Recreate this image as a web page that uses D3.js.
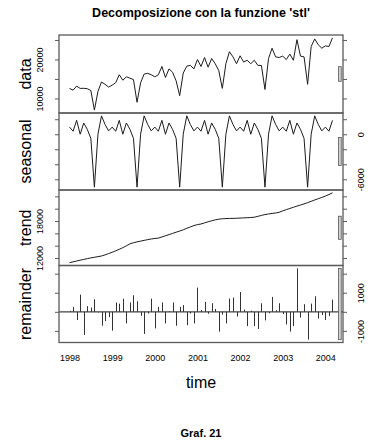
<!DOCTYPE html>
<html>
<head>
<meta charset="utf-8">
<script src="https://cdn.jsdelivr.net/npm/d3@7"></script>
<style>
  body { margin: 0; background: #fff; }
  text { font-family: "Liberation Sans", Arial, sans-serif; fill: #000; }
</style>
</head>
<body>
<svg id="chart" width="370" height="442"></svg>
<script>
// monthly series, Jan 1998 - Mar 2004
const startYear = 1998;

const dataValues = [
  12570, 12120, 13170, 12570, 12600, 12500, 12040, 7010, 11800, 14230, 13620, 12910,
  13400, 14050, 16080, 14670, 15550, 15200, 14840, 9020, 14000, 16260, 16440, 16080,
  15550, 16080, 18200, 15370, 17590, 16700, 14500, 10710, 16500, 18280, 18470, 17590,
  19970, 18200, 20500, 18020, 20240, 18910, 17140, 12570, 18910, 21980, 20660, 18910,
  20930, 19340, 19790, 18910, 19790, 18470, 18470, 12300, 20240, 22880, 20660, 20500,
  20850, 19970, 21380, 19790, 25080, 20850, 20660, 13620, 23310, 25260, 23760, 22880,
  23490, 23310, 25530
];

const seasonalValues = [
  950, 400, 1850, 0, 1500, 650, -550, -7050, 0, 2450, 1300, 450,
  950, 400, 1850, 0, 1500, 650, -550, -7050, 0, 2450, 1300, 450,
  950, 400, 1850, 0, 1500, 650, -550, -7050, 0, 2450, 1300, 450,
  950, 400, 1850, 0, 1500, 650, -550, -7050, 0, 2450, 1300, 450,
  950, 400, 1850, 0, 1500, 650, -550, -7050, 0, 2450, 1300, 450,
  950, 400, 1850, 0, 1500, 650, -550, -7050, 0, 2450, 1300, 450,
  950, 400, 1850
];

const trendValues = [
  11240, 11380, 11510, 11650, 11770, 11900, 12020, 12120, 12220, 12330, 12510, 12720,
  12930, 13170, 13420, 13680, 13980, 14300, 14480, 14620, 14740, 14860, 14980, 15090,
  15170, 15230, 15420, 15610, 15800, 15990, 16190, 16370, 16580, 16810, 17040, 17260,
  17420, 17520, 17700, 17880, 18040, 18190, 18300, 18360, 18400, 18420, 18430, 18450,
  18480, 18510, 18540, 18570, 18620, 18760, 18910, 19050, 19150, 19230, 19300, 19420,
  19650, 19850, 20040, 20230, 20420, 20600, 20780, 20980, 21200, 21420, 21620, 21830,
  22050, 22300, 22580
];

const remainderValues = [
  50, 260, -430, 900, -1215, 295, 225, 660, -30, -730, -490, -280,
  -990, 490, 430, 690, -610, 490, 870, 555, -210, -1160, -90, 690,
  -870, 260, 490, -610, 40, 490, -730, 260, 350, -700, -90, -610,
  1270, 100, 520, -100, 450, 150, -1040, -150, -610, 700, 750, -250,
  1040, 120, -750, 60, -750, -900, 450, -450, -80, 780, 80, 450,
  -120, -660, -1040, -750, 2280, -300, 400, -1460, 430, 815, -350, -170,
  -430, -225, 640
];

const panelNames = ["data", "seasonal", "trend", "remainder"];
const yearTicks = [1998, 1999, 2000, 2001, 2002, 2003, 2004];

const dataTicks = [10000, 15000, 20000, 25000];
const dataLabels = [10000, 20000];
const seasonalTicks = [-6000, -4000, -2000, 0, 2000];
const seasonalLabels = [-6000, 0];
const trendTicks = [12000, 14000, 16000, 18000, 20000, 22000];
const trendLabels = [12000, 18000];
const remainderTicks = [-1000, 0, 1000, 2000];
const remainderLabels = [-1000, 1000];

const svg = d3.select("#chart");
const left = 59, right = 343;
const edges = [35, 113, 190, 265.5, 342.5];
const boxColor = "#5a5a5a";

function padded(ext) {
  const r = ext[1] - ext[0];
  return [ext[0] - 0.04 * r, ext[1] + 0.04 * r];
}

const time = dataValues.map((d, i) => startYear + i / 12);

const x = d3.scaleLinear()
  .domain(padded(d3.extent(time)))
  .range([left, right]);

const series = [dataValues, seasonalValues, trendValues, remainderValues];
const tickSets = [dataTicks, seasonalTicks, trendTicks, remainderTicks];
const labelSets = [dataLabels, seasonalLabels, trendLabels, remainderLabels];

// range bars all have the length of the smallest component range
const barLen = d3.min(series, s => d3.max(s) - d3.min(s));

series.forEach(function (vals, p) {
  const top = edges[p], bottom = edges[p + 1];
  const ext = d3.extent(vals);
  const y = d3.scaleLinear().domain(padded(ext)).range([bottom, top]);
  const g = svg.append("g");

  if (p < 3) {
    g.append("path")
      .datum(vals)
      .attr("fill", "none")
      .attr("stroke", "#1c1c1c")
      .attr("stroke-width", 1)
      .attr("d", d3.line().x((d, i) => x(time[i])).y(d => y(d)));
  } else {
    g.append("line")
      .attr("x1", left).attr("x2", right)
      .attr("y1", y(0)).attr("y2", y(0))
      .attr("stroke", "#444").attr("stroke-width", 1.2);
    g.selectAll(".bar")
      .data(vals)
      .enter().append("line")
      .attr("class", "bar")
      .attr("x1", (d, i) => Math.round(x(time[i])) + 0.5)
      .attr("x2", (d, i) => Math.round(x(time[i])) + 0.5)
      .attr("y1", y(0))
      .attr("y2", d => y(d))
      .attr("stroke", "#333")
      .attr("stroke-width", 1);
  }

  // box
  g.append("rect")
    .attr("x", left).attr("y", top)
    .attr("width", right - left).attr("height", bottom - top)
    .attr("fill", "none")
    .attr("stroke", boxColor)
    .attr("stroke-width", 1.3);

  // y ticks on both sides, labels on alternating side
  const labelRight = p % 2 === 1;
  const fmt = side => d => (side === labelRight && labelSets[p].includes(d)) ? d : "";

  const axL = g.append("g")
    .attr("transform", "translate(" + left + ",0)")
    .call(d3.axisLeft(y).tickValues(tickSets[p]).tickSize(4).tickFormat(fmt(false)));
  const axR = g.append("g")
    .attr("transform", "translate(" + right + ",0)")
    .call(d3.axisRight(y).tickValues(tickSets[p]).tickSize(4).tickFormat(fmt(true)));

  [axL, axR].forEach(function (ax, k) {
    ax.select(".domain").remove();
    ax.selectAll("line").attr("stroke", boxColor);
    ax.selectAll("text")
      .attr("transform", "rotate(-90)")
      .attr("x", 0)
      .attr("dy", 0)
      .attr("y", k === 0 ? -16 : 21)
      .attr("text-anchor", "middle")
      .style("font-size", "9px")
      .style("font-family", "'Liberation Sans', Arial, sans-serif");
  });

  // year labels under the last panel
  if (p === 3) {
    const axB = g.append("g")
      .attr("transform", "translate(0," + bottom + ")")
      .call(d3.axisBottom(x).tickValues(yearTicks).tickSize(0).tickFormat(d3.format("d")));
    axB.select(".domain").remove();
    axB.selectAll("text")
      .attr("y", 18)
      .attr("dy", 0)
      .style("font-size", "9px")
      .style("font-family", "'Liberation Sans', Arial, sans-serif");
  }

  // range bar
  const mid = (ext[0] + ext[1]) / 2;
  const dx = (right - left) / 64;
  g.append("rect")
    .attr("x", right - dx)
    .attr("width", dx * 0.6)
    .attr("y", y(mid + barLen / 2))
    .attr("height", y(mid - barLen / 2) - y(mid + barLen / 2))
    .attr("fill", "#d3d3d3")
    .attr("stroke", "#555")
    .attr("stroke-width", 0.8);

  // panel name
  g.append("text")
    .attr("transform", "translate(31," + ((top + bottom) / 2) + ") rotate(-90)")
    .attr("text-anchor", "middle")
    .style("font-size", "16px")
    .text(panelNames[p]);
});

svg.append("text")
  .attr("x", (left + right) / 2).attr("y", 17)
  .attr("text-anchor", "middle")
  .style("font-size", "12.5px")
  .style("font-weight", "bold")
  .text("Decomposizione con la funzione 'stl'");

svg.append("text")
  .attr("x", (left + right) / 2).attr("y", 388)
  .attr("text-anchor", "middle")
  .style("font-size", "16px")
  .text("time");

svg.append("text")
  .attr("x", (left + right) / 2).attr("y", 437)
  .attr("text-anchor", "middle")
  .style("font-size", "11px")
  .style("font-weight", "bold")
  .text("Graf. 21");
</script>
</body>
</html>
